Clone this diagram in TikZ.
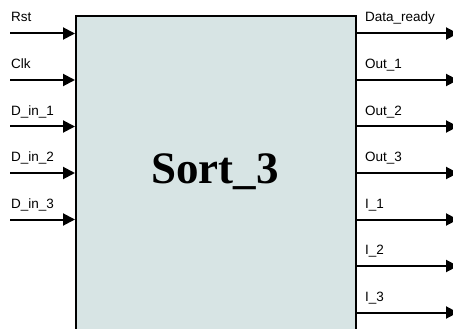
\documentclass[tikz,border=0pt]{standalone}
\usepackage{fontspec}
\setmainfont{Liberation Sans}
\newfontfamily\titlefont{Liberation Serif}
\usetikzlibrary{arrows.meta}
\definecolor{boxfill}{RGB}{215,228,228}
\tikzset{
  sig/.style={line width=2pt, -{Triangle[length=12pt,width=12pt]}},
  lbl/.style={anchor=base west, inner sep=0pt, font=\fontsize{13.5}{15}\selectfont},
  blockbox/.style={draw=black, line width=2pt, fill=boxfill, minimum width=280pt, minimum height=330pt, anchor=north west, inner sep=0pt}
}
\begin{document}
\begin{tikzpicture}[x=1pt,y=-1pt]
\useasboundingbox (0,0) rectangle (453,329);
\clip (0,0) rectangle (453,329);
\fill[white] (0,0) rectangle (453,329);
\node[blockbox] (box) at (75,15) {};
\node[font=\titlefont\bfseries\fontsize{45}{50}\selectfont, inner sep=0pt, anchor=base] (title) at (215,183) {Sort\_3};
% inputs
\foreach \n/\t/\y in {rst/Rst/33.5, clk/Clk/80, din1/D\_in\_1/126.5, din2/D\_in\_2/173, din3/D\_in\_3/219.5}{
  \coordinate (\n) at (10,\y);
  \node[lbl] (\n l) at (11,\y-11.5) {\t};
  \draw[sig] (\n) -- (box.west |- \n);
}
% outputs
\foreach \n/\t/\y in {dr/Data\_ready/33.5, o1/Out\_1/80, o2/Out\_2/126.5, o3/Out\_3/173, i1/I\_1/219.5, i2/I\_2/266, i3/I\_3/312.5}{
  \coordinate (\n) at (458,\y);
  \node[lbl] (\n l) at (365,\y-11.5) {\t};
  \draw[sig] (box.east |- \n) -- (\n);
}
\end{tikzpicture}
\end{document}
